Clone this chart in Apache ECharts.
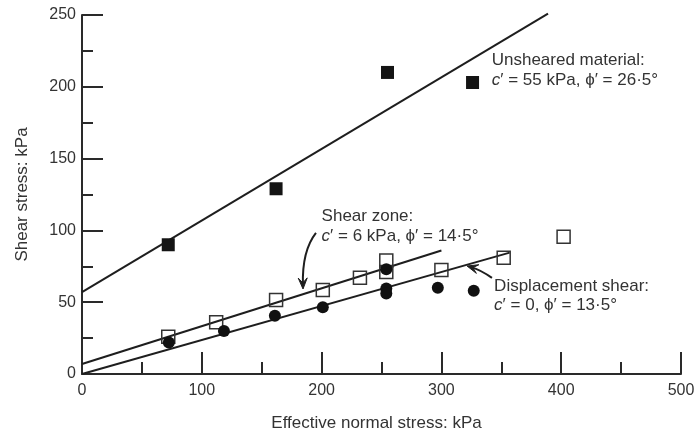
<!DOCTYPE html>
<html>
<head>
<meta charset="utf-8">
<script src="https://cdn.jsdelivr.net/npm/echarts@6/dist/echarts.min.js"></script>
<style>html,body{margin:0;padding:0;background:#fff}#c{width:697px;height:433px}</style>
</head>
<body>
<div id="c"></div>
<script>
// ---- data ----
const xTicks = [0, 100, 200, 300, 400, 500];
const yTicks = [0, 50, 100, 150, 200, 250];
const unshearedPts = [[72, 90], [162, 129], [255, 210], [326, 203]];
const shearZonePts = [[72, 26], [112, 36], [162, 51.5], [201, 58.5], [232, 67], [254, 79], [254, 71], [300, 72.5], [352, 81], [402, 95.5]];
const displacementPts = [[72.5, 22], [118.5, 30], [161, 40.5], [201, 46.5], [254, 73], [254, 59.5], [254, 56], [297, 60], [327, 58]];
const unshearedLine = [[0, 57], [389, 251]];
const shearZoneLine = [[0, 7], [300, 86]];
const displacementLine = [[0, 0], [357, 84.5]];
const labels = {
  unsheared: 'Unsheared material:\n{i|c}′ = 55 kPa, ϕ′ = 26·5°',
  shearZone: 'Shear zone:\n{i|c}′ = 6 kPa, ϕ′ = 14·5°',
  displacement: 'Displacement shear:\n{i|c}′ = 0, ϕ′ = 13·5°'
};

// ---- chart ----
const FONT = 'Liberation Sans, Arial, sans-serif';
const TXT = '#333';
const AX = '#2a2a2a';
const chart = echarts.init(document.getElementById('c'), null, {renderer: 'canvas'});
const lineSeries = (d) => ({type: 'line', data: d, symbol: 'none', clip: false, silent: true,
  lineStyle: {color: '#1e1e1e', width: 2}, z: 2});
const axisCommon = {
  axisLine: {show: true, lineStyle: {color: AX, width: 2}},
  axisTick: {show: true, inside: true, lineStyle: {color: AX, width: 2}},
  minorTick: {show: true, splitNumber: 2, lineStyle: {color: AX, width: 2}},
  splitLine: {show: false},
  axisLabel: {color: TXT, fontSize: 16, fontFamily: FONT},
  nameTextStyle: {color: TXT, fontSize: 17, fontFamily: FONT},
  nameLocation: 'middle'
};
const option = {
  animation: false,
  backgroundColor: '#fff',
  grid: {left: 82, right: 16, top: 15, bottom: 59, containLabel: false, outerBoundsMode: 'none'},
  xAxis: Object.assign({}, axisCommon, {
    type: 'value', min: xTicks[0], max: xTicks[xTicks.length - 1], interval: xTicks[1] - xTicks[0],
    name: 'Effective normal stress: kPa', nameGap: 41,
    nameTextStyle: Object.assign({}, axisCommon.nameTextStyle, {padding: [0, 10, 0, 0]}),
    axisTick: Object.assign({}, axisCommon.axisTick, {length: 22}),
    minorTick: Object.assign({}, axisCommon.minorTick, {length: 12}),
    axisLabel: Object.assign({}, axisCommon.axisLabel, {margin: 9})
  }),
  yAxis: Object.assign({}, axisCommon, {
    type: 'value', min: yTicks[0], max: yTicks[yTicks.length - 1], interval: yTicks[1] - yTicks[0],
    name: 'Shear stress: kPa', nameGap: 51,
    axisTick: Object.assign({}, axisCommon.axisTick, {length: 21}),
    minorTick: Object.assign({}, axisCommon.minorTick, {length: 11}),
    axisLabel: Object.assign({}, axisCommon.axisLabel, {margin: 6})
  }),
  series: [
    lineSeries(unshearedLine),
    lineSeries(shearZoneLine),
    lineSeries(displacementLine),
    {type: 'scatter', data: unshearedPts, symbol: 'rect', symbolSize: 13,
      itemStyle: {color: '#141414', opacity: 1}, z: 3},
    {type: 'scatter', data: shearZonePts, symbol: 'rect', symbolSize: 13,
      itemStyle: {color: 'rgba(255,255,255,0)', borderColor: '#333', borderWidth: 1.5, opacity: 1}, z: 3},
    {type: 'scatter', data: displacementPts, symbol: 'circle', symbolSize: 12,
      itemStyle: {color: '#111', opacity: 1}, z: 4}
  ]
};
chart.setOption(option);

// ---- annotations (placed in data space) ----
const px = (p) => chart.convertToPixel({gridIndex: 0}, p);
function textEl(at, str) {
  const p = px(at);
  return {type: 'text', x: p[0], y: p[1], z: 10,
    style: {text: str, fill: TXT, fontSize: 17, fontFamily: FONT,
      lineHeight: 19.5, verticalAlign: 'top', align: 'left',
      rich: {i: {fontStyle: 'italic', fontSize: 17, fontFamily: FONT, fill: TXT}}}};
}
function arrowEls(tail, ctrl, tip) {
  const a = px(tail), c = px(ctrl), b = px(tip);
  let dx = b[0] - c[0], dy = b[1] - c[1];
  const L = Math.hypot(dx, dy); dx /= L; dy /= L;
  const nx = -dy, ny = dx, hl = 11, hw = 4.5;
  const head = [
    [b[0], b[1]],
    [b[0] - dx * hl + nx * hw, b[1] - dy * hl + ny * hw],
    [b[0] - dx * hl * 0.55, b[1] - dy * hl * 0.55],
    [b[0] - dx * hl - nx * hw, b[1] - dy * hl - ny * hw]
  ];
  return [
    {type: 'bezierCurve', z: 10, shape: {x1: a[0], y1: a[1], x2: b[0] - dx * 4, y2: b[1] - dy * 4, cpx1: c[0], cpy1: c[1]},
      style: {stroke: '#1e1e1e', lineWidth: 2, fill: null}},
    {type: 'polygon', z: 10, shape: {points: head}, style: {fill: '#1e1e1e', stroke: '#1e1e1e', lineWidth: 1}}
  ];
}
chart.setOption({graphic: [
  textEl([342, 225], labels.unsheared),
  textEl([200, 116.3], labels.shearZone),
  textEl([344, 68.2], labels.displacement)
].concat(
  arrowEls([195.3, 98.2], [183.6, 85.7], [184.5, 59.2]),
  arrowEls([342.2, 66.9], [333.1, 72.4], [321.4, 75.2])
)});
</script>
</body>
</html>
